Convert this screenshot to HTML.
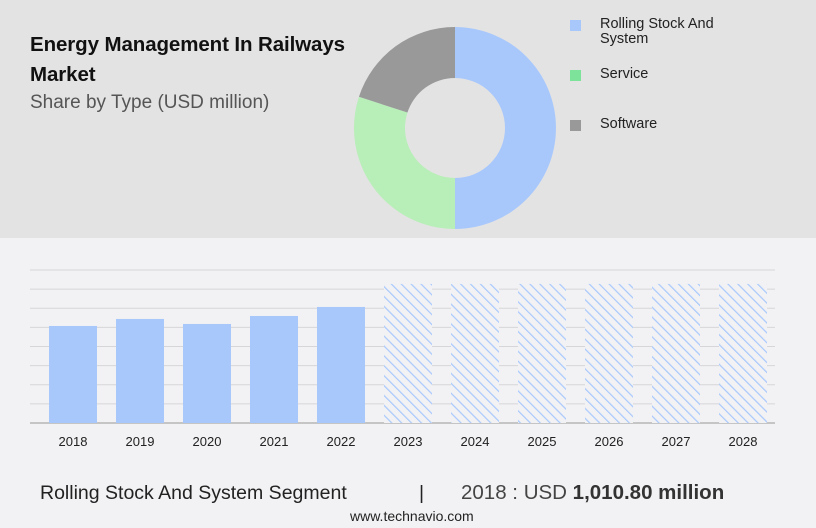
<!DOCTYPE html>
<html><head><meta charset="utf-8"><style>
body{margin:0;width:816px;height:528px;overflow:hidden;background:#f2f2f4;font-family:"Liberation Sans",sans-serif;position:relative}
.top{position:absolute;left:0;top:0;width:816px;height:238px;background:#e3e3e3}
.t1{position:absolute;left:30px;top:30px;font-size:20.5px;font-weight:bold;color:#111;line-height:30px;letter-spacing:-0.1px}
.t2{position:absolute;left:30px;top:92px;font-size:19px;color:#555}
.leg{position:absolute;left:570px;font-size:14.5px;color:#222;line-height:15px}
.sw{position:absolute;left:0;top:3px;width:11px;height:11px}
.leg span{position:absolute;left:30px;white-space:nowrap}
.foot{position:absolute;top:482px;font-size:19.5px;color:#222;font-family:"Liberation Sans Narrow","Liberation Sans",sans-serif}
</style></head><body>
<div class="top"></div>
<div class="t1">Energy Management In Railways<br>Market</div>
<div class="t2">Share by Type (USD million)</div>
<svg id="donut" style="position:absolute;left:0;top:0" width="816" height="238"></svg>
<div class="leg" style="top:17px"><div class="sw" style="background:#a8c8fc"></div><span>Rolling Stock And<br>System</span></div>
<div class="leg" style="top:67px"><div class="sw" style="background:#7de39a"></div><span>Service</span></div>
<div class="leg" style="top:117px"><div class="sw" style="background:#999"></div><span>Software</span></div>
<svg id="bars" style="position:absolute;left:0;top:240px" width="816" height="220">
<defs><pattern id="hatch" width="7" height="7" patternUnits="userSpaceOnUse" patternTransform="rotate(-45)"><rect width="7" height="7" fill="#f2f2f4"/><line x1="0" y1="0" x2="0" y2="7" stroke="#a8c8fc" stroke-width="2.4"/></pattern></defs>
</svg>
<div class="foot" style="left:40px">Rolling Stock And System Segment</div>
<div class="foot" style="left:419px">|</div>
<div class="foot" style="left:461px;color:#444;font-size:20.5px;top:481px">2018 : USD <b style="color:#333">1,010.80 million</b></div>
<div style="position:absolute;left:350px;top:508px;font-size:14px;color:#222;font-family:'Liberation Sans Narrow','Liberation Sans',sans-serif">www.technavio.com</div>
<script>
const shareLabels=["Rolling Stock And System","Service","Software"];
const shareValues=[50,30,20];
const shareColors=["#a8c8fc","#b8eeb8","#999999"];
const years=["2018","2019","2020","2021","2022","2023","2024","2025","2026","2027","2028"];
const values=[1010.8,1084,1032,1115,1209,1449,1449,1449,1449,1449,1449];
const forecast=[false,false,false,false,false,true,true,true,true,true,true];
const NS="http://www.w3.org/2000/svg";
const d=document.getElementById('donut');
const cx=455,cy=128,R=101,r=50;
let tot=shareValues.reduce((a,b)=>a+b,0),acc=0;
shareValues.forEach((v,i)=>{
 const a0=acc/tot*2*Math.PI,a1=(acc+v)/tot*2*Math.PI;acc+=v;
 const p=(a,rr)=>[cx+rr*Math.sin(a),cy-rr*Math.cos(a)];
 const [x0,y0]=p(a0,R),[x1,y1]=p(a1,R),[x2,y2]=p(a1,r),[x3,y3]=p(a0,r);
 const lg=(a1-a0)>Math.PI?1:0;
 const path=document.createElementNS(NS,'path');
 path.setAttribute('d',`M${x0},${y0}A${R},${R} 0 ${lg} 1 ${x1},${y1}L${x2},${y2}A${r},${r} 0 ${lg} 0 ${x3},${y3}Z`);
 path.setAttribute('fill',shareColors[i]);
 
 
 d.appendChild(path);
});
const s=document.getElementById('bars');
const base=183,ymax=1594,ph=153;
const y=v=>base-v/ymax*ph;
for(let i=0;i<=8;i++){
 const gy=base-i*ph/8;
 const l=document.createElementNS(NS,'line');
 l.setAttribute('x1',30);l.setAttribute('x2',775);l.setAttribute('y1',gy);l.setAttribute('y2',gy);
 l.setAttribute('stroke',i==0?'#aaa':'#d6d6da');l.setAttribute('stroke-width',i==0?1.3:1);
 
 
 s.appendChild(l);
}
const step=67,x0=49,bw=48;
years.forEach((yr,i)=>{
 const x=x0+i*step;
 const b=document.createElementNS(NS,'rect');
 b.setAttribute('x',x);b.setAttribute('y',y(values[i]));b.setAttribute('width',bw);b.setAttribute('height',base-y(values[i]));
 b.setAttribute('fill',forecast[i]?'url(#hatch)':'#a8c8fc');
 
 
 s.appendChild(b);
 const t=document.createElementNS(NS,'text');
 t.setAttribute('x',x+bw/2);t.setAttribute('y',206);t.setAttribute('text-anchor','middle');
 t.setAttribute('font-size','13');t.setAttribute('fill','#222');t.setAttribute('font-family','Liberation Sans');
 t.textContent=yr;
 
 
 s.appendChild(t);
});
</script>
</body></html>
